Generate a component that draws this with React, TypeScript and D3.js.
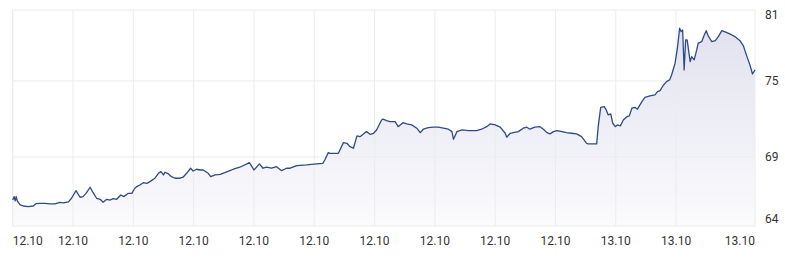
import React from "react";
import * as d3 from "d3";

// Time axis: 12.10 04:00 → 13.10 04:37 (minutes from start)
const START = new Date(2024, 9, 12, 4, 0);
const END_MINUTES = 1477;

const minutes = [
  0, 3, 5, 7, 9, 15, 21, 31, 41, 46, 54, 64, 74, 84, 94, 101, 111, 117, 126, 134,
  140, 147, 154, 160, 167, 174, 180, 187, 194, 200, 207, 215, 221, 230, 237, 243, 247, 253, 260, 267,
  273, 283, 290, 295, 300, 303, 310, 316, 323, 333, 339, 346, 354, 359, 366, 373,
  379, 389, 394, 403, 413, 422, 432, 439, 452, 466, 471, 476, 480, 491, 498, 505, 515, 525, 535, 545,
  552, 565, 585, 605, 617, 621, 628, 631, 648,
  658, 665, 671, 678, 685, 691, 701, 704, 711, 718, 724, 734, 737, 744, 751, 761, 767, 771, 777, 784,
  794, 804, 811, 817, 827, 837, 847, 857, 867, 874, 877, 884, 894, 907, 923, 933, 943, 950, 960, 970,
  980, 983, 990, 996, 1006, 1016, 1023, 1029, 1039, 1049, 1056, 1063, 1069, 1076, 1083, 1093, 1102, 1112, 1122, 1132,
  1142, 1145, 1162,
  1165, 1170, 1177, 1181, 1185, 1190, 1194, 1199, 1203, 1209, 1215, 1222, 1227, 1232, 1238, 1243, 1252, 1258, 1268, 1278,
  1283, 1288, 1295, 1301, 1307, 1311, 1318, 1323, 1327, 1330, 1333, 1336, 1339, 1342, 1348, 1351, 1356, 1361, 1364, 1371,
  1376, 1380, 1384, 1391, 1398, 1404, 1411, 1421, 1431, 1437, 1447, 1454, 1461, 1467, 1472, 1477,
];

const prices = [
  65.6, 65.87, 65.53, 65.87, 65.53, 65.21, 65.13, 65.08, 65.13, 65.31, 65.34, 65.34, 65.29, 65.29, 65.42, 65.37, 65.45, 65.74, 66.34, 65.82,
  65.87, 66.18, 66.61, 66.18, 65.74, 65.66, 65.42, 65.66, 65.6, 65.71, 65.66, 66.0, 65.87, 66.13, 66.13, 66.53, 66.66, 66.79, 66.97, 66.92,
  67.05, 67.32, 67.71, 67.84, 67.58, 67.79, 67.66, 67.44, 67.32, 67.32, 67.4, 67.71, 68.11, 67.89, 68.03, 67.97,
  67.97, 67.71, 67.44, 67.58, 67.63, 67.76, 67.92, 68.03, 68.19, 68.45, 68.55, 68.23, 67.97, 68.45, 68.11, 68.19, 68.11, 68.23, 67.92, 68.11,
  68.11, 68.31, 68.37, 68.45, 68.5, 68.76, 69.34, 69.29, 69.29,
  70.13, 70.08, 69.81, 69.69, 70.66, 70.6, 70.92, 71.0, 70.79, 70.87, 71.13, 71.92, 71.98, 71.87, 71.79, 71.79, 71.39, 71.53, 71.71, 71.61,
  71.53, 71.27, 70.92, 71.19, 71.31, 71.35, 71.35, 71.27, 71.19, 71.0, 70.4, 71.0, 71.13, 71.08, 71.08, 71.19, 71.39, 71.61, 71.53, 71.35,
  70.87, 70.56, 70.87, 70.92, 71.0, 71.27, 71.35, 71.19, 71.35, 71.39, 71.19, 70.92, 70.82, 71.0, 71.08, 71.0, 70.92, 70.87, 70.82, 70.6,
  70.08, 70.03, 70.03,
  71.39, 72.92, 72.97, 72.71, 72.32, 72.4, 71.66, 71.39, 71.53, 71.45, 71.92, 72.18, 72.24, 72.85, 72.92, 72.77, 73.37, 73.71, 73.82, 73.9,
  74.16, 74.23, 74.68, 74.95, 75.08, 75.47, 76.4, 77.71, 79.16, 78.89, 79.03, 75.87, 78.24, 78.24, 76.52, 76.92, 76.66, 77.45, 77.98, 78.1,
  78.63, 78.97, 78.55, 78.1, 78.18, 78.5, 78.97, 78.81, 78.63, 78.5, 78.18, 77.76, 76.92, 76.26, 75.55, 75.87,
];

const Y_MIN = 63.55;
const Y_MAX = 80.6;
const yGridValues = [69, 75];
const yLabelValues = [Y_MAX, 75, 69, Y_MIN];

const W = 785;
const H = 267;
const LEFT = 12.7;
const RIGHT = 755;
const TOP = 10;
const BOTTOM = 226;

export default function App() {
  const x = d3
    .scaleTime()
    .domain([START, d3.timeMinute.offset(START, END_MINUTES)])
    .range([LEFT, RIGHT]);
  const y = d3.scaleLinear().domain([Y_MIN, Y_MAX]).range([BOTTOM, TOP]);

  const data = minutes.map((m, i) => ({ t: d3.timeMinute.offset(START, m), v: prices[i] }));

  const line = d3
    .line<{ t: Date; v: number }>()
    .x((d) => x(d.t))
    .y((d) => y(d.v));
  const area = d3
    .area<{ t: Date; v: number }>()
    .x((d) => x(d.t))
    .y0(BOTTOM)
    .y1((d) => y(d.v));

  const ticks = x.ticks(d3.timeHour.every(2) as any);
  const fmt = d3.timeFormat("%d.%m");
  const yFmt = d3.format(".0f");
  const font = "Roboto, 'Noto Sans', sans-serif";
  const grid = "#ececec";

  return (
    <svg
      width={W}
      height={H}
      style={{ position: "absolute", left: 0, top: 0, background: "#fff" }}
    >
      <defs>
        <linearGradient id="fillGrad" x1="0" y1={TOP} x2="0" y2={BOTTOM} gradientUnits="userSpaceOnUse">
          <stop offset="0%" stopColor="#dfe0ee" />
          <stop offset="100%" stopColor="#fbfbfd" />
        </linearGradient>
      </defs>
      <path d={area(data) || ""} fill="url(#fillGrad)" />
      {/* vertical grid */}
      {ticks.slice(0, ticks.length - 1).map((t, i) => (
        <line key={"vg" + i} x1={x(t)} x2={x(t)} y1={TOP} y2={BOTTOM} stroke={grid} strokeWidth={1} />
      ))}
      {/* horizontal grid */}
      {yGridValues.map((v, i) => (
        <line key={"hg" + i} x1={LEFT} x2={RIGHT} y1={y(v)} y2={y(v)} stroke={grid} strokeWidth={1} />
      ))}
      <rect x={LEFT} y={TOP} width={RIGHT - LEFT} height={BOTTOM - TOP} fill="none" stroke={grid} strokeWidth={1} />
      <path d={line(data) || ""} fill="none" stroke="#2f4b85" strokeWidth={1.3} strokeLinejoin="round" />
      {/* x labels */}
      {ticks.map((t, i) => {
        const first = i === 0;
        const last = i === ticks.length - 1;
        return (
          <text
            key={"xl" + i}
            x={first ? LEFT : last ? RIGHT : x(t)}
            y={245}
            textAnchor={first ? "start" : last ? "end" : "middle"}
            fontFamily={font}
            fontSize={12}
            fill="#333"
          >
            {fmt(t)}
          </text>
        );
      })}
      {/* y labels */}
      {yLabelValues.map((v, i) => (
        <text
          key={"yl" + i}
          x={765}
          y={Math.min(219, Math.max(15, y(v)))}
          dominantBaseline="central"
          fontFamily={font}
          fontSize={12}
          fill="#333"
        >
          {yFmt(v)}
        </text>
      ))}
    </svg>
  );
}
